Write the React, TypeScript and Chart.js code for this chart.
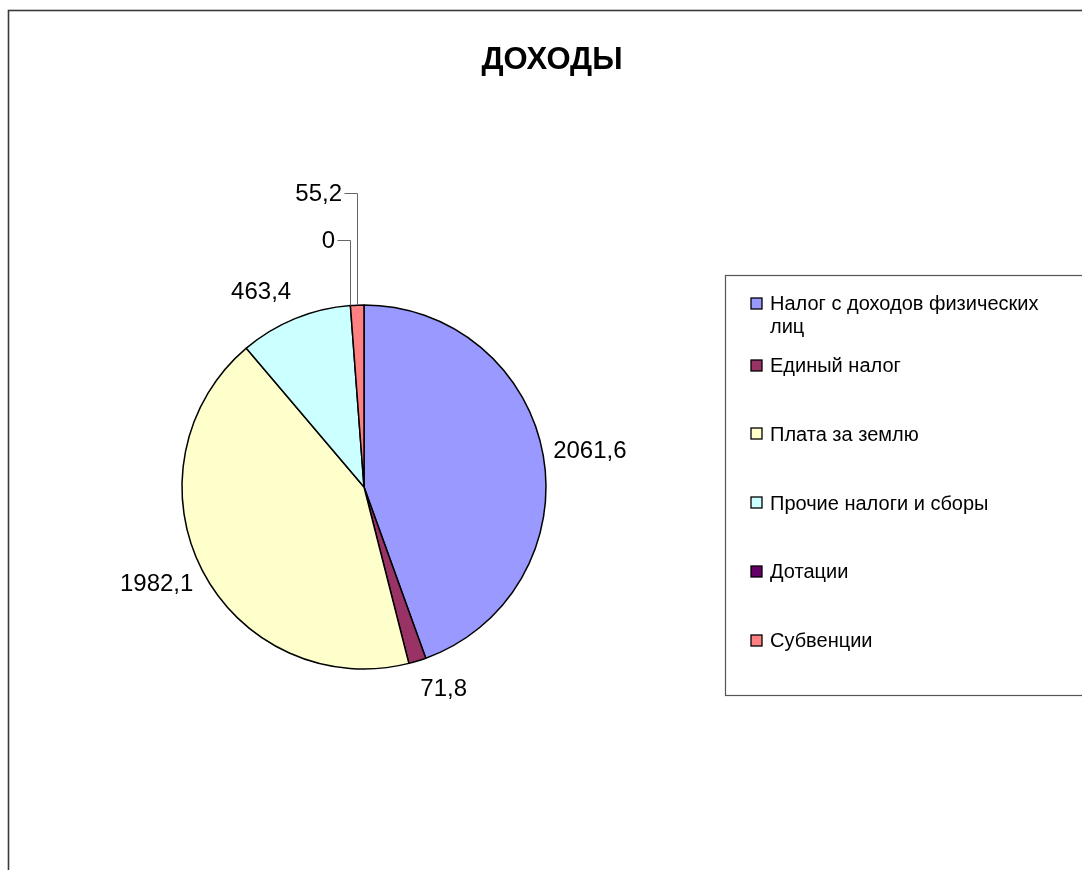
import React, { useEffect, useRef } from 'react';
import { Chart, registerables } from 'chart.js';

Chart.register(...registerables);

const chartTitle = 'ДОХОДЫ';
const categories = [
  'Налог с доходов физических лиц',
  'Единый налог',
  'Плата за землю',
  'Прочие налоги и сборы',
  'Дотации',
  'Субвенции',
];
const values = [2061.6, 71.8, 1982.1, 463.4, 0, 55.2];
const colors = ['#9999FF', '#993366', '#FFFFCC', '#CCFFFF', '#660066', '#FF8080'];

const FONT = '"Liberation Sans", Arial, sans-serif';

function fmt(v: number): string {
  return String(v).replace('.', ',');
}

function wrapText(ctx: CanvasRenderingContext2D, text: string, maxW: number): string[] {
  const words = text.split(' ');
  const lines: string[] = [];
  let cur = '';
  for (const w of words) {
    const t = cur ? cur + ' ' + w : w;
    if (ctx.measureText(t).width > maxW && cur) {
      lines.push(cur);
      cur = w;
    } else {
      cur = t;
    }
  }
  if (cur) lines.push(cur);
  return lines;
}

const decorPlugin = {
  id: 'decor',
  beforeDraw(chart: any) {
    const ctx: CanvasRenderingContext2D = chart.ctx;
    ctx.save();
    ctx.fillStyle = '#ffffff';
    ctx.fillRect(0, 0, chart.width, chart.height);
    // outer border
    ctx.strokeStyle = '#3a3a3a';
    ctx.lineWidth = 1.6;
    ctx.strokeRect(8.5, 10.5, chart.width + 20, chart.height + 20);
    // title
    ctx.fillStyle = '#000';
    ctx.font = 'bold 31px ' + FONT;
    ctx.textAlign = 'center';
    ctx.textBaseline = 'middle';
    ctx.fillText(chartTitle, 552, 60);
    ctx.restore();
  },
  afterDatasetsDraw(chart: any) {
    const ctx: CanvasRenderingContext2D = chart.ctx;
    const meta = chart.getDatasetMeta(0);
    const data: number[] = chart.data.datasets[0].data;
    const total = data.reduce((a, b) => a + b, 0);
    ctx.save();
    ctx.font = '24px ' + FONT;
    ctx.fillStyle = '#000';
    let k = 0;
    meta.data.forEach((arc: any, i: number) => {
      const { x: cx, y: cy, startAngle, endAngle, outerRadius: R } = arc.getProps(
        ['x', 'y', 'startAngle', 'endAngle', 'outerRadius'],
        true
      );
      const mid = (startAngle + endAngle) / 2;
      const dx = Math.cos(mid);
      const dy = Math.sin(mid);
      const txt = fmt(data[i]);
      const w = ctx.measureText(txt).width;
      const hh = 9;
      const ex = cx + R * dx;
      const ey = cy + R * dy;
      if (data[i] / total < 0.015 && dy < -0.9) {
        const ly = cy - R - 65 - 47 * k;
        k++;
        ctx.strokeStyle = '#666';
        ctx.lineWidth = 1;
        ctx.beginPath();
        ctx.moveTo(Math.round(ex) + 0.5, ey);
        ctx.lineTo(Math.round(ex) + 0.5, Math.round(ly) + 0.5);
        ctx.lineTo(Math.round(ex) - 12.5, Math.round(ly) + 0.5);
        ctx.stroke();
        ctx.textAlign = 'right';
        ctx.textBaseline = 'middle';
        ctx.fillText(txt, Math.round(ex) - 15, ly + 1);
      } else {
        const lx = ex + Math.sign(dx) * (w / 2) + 10 * dx;
        const ly = ey + (hh + 20) * dy;
        ctx.textAlign = 'center';
        ctx.textBaseline = 'middle';
        ctx.fillText(txt, lx, ly + 1);
      }
    });

    // legend
    const boxL = 725.5;
    const boxT = 275.5;
    const boxB = 695.5;
    ctx.strokeStyle = '#555';
    ctx.lineWidth = 1.2;
    ctx.strokeRect(boxL, boxT, chart.width, boxB - boxT);
    ctx.font = '20px ' + FONT;
    ctx.textAlign = 'left';
    ctx.textBaseline = 'middle';
    const labels: string[] = chart.data.labels;
    labels.forEach((lab, i) => {
      const y0 = i === 0 ? boxT + 28 : boxT + 90 + 68.75 * (i - 1);
      const lines = wrapText(ctx, lab, 292);
      ctx.fillStyle = colors[i];
      ctx.fillRect(751, Math.round(y0) - 6, 11, 11);
      ctx.strokeStyle = '#000';
      ctx.lineWidth = 1.3;
      ctx.strokeRect(751, Math.round(y0) - 6, 11, 11);
      ctx.fillStyle = '#000';
      lines.forEach((ln, j) => {
        ctx.fillText(ln, 770, y0 + 1 + j * 23);
      });
    });
    ctx.restore();
  },
};

export default function App() {
  const ref = useRef<HTMLCanvasElement | null>(null);
  useEffect(() => {
    if (!ref.current) return;
    const chart = new Chart(ref.current, {
      type: 'pie',
      data: {
        labels: categories,
        datasets: [
          {
            data: values,
            backgroundColor: colors,
            borderColor: '#000',
            borderWidth: 1.5,
          },
        ],
      },
      options: {
        animation: false,
        responsive: true,
        maintainAspectRatio: false,
        events: [],
        layout: {
          padding: { left: 181.25, top: 304.25, right: 535.25, bottom: 200.25 },
        },
        plugins: {
          legend: { display: false },
          title: { display: false },
          tooltip: { enabled: false },
        },
      },
      plugins: [decorPlugin],
    } as any);
    return () => chart.destroy();
  }, []);
  return (
    <div style={{ position: 'absolute', left: 0, top: 0, width: 1082, height: 870 }}>
      <canvas ref={ref} />
    </div>
  );
}
